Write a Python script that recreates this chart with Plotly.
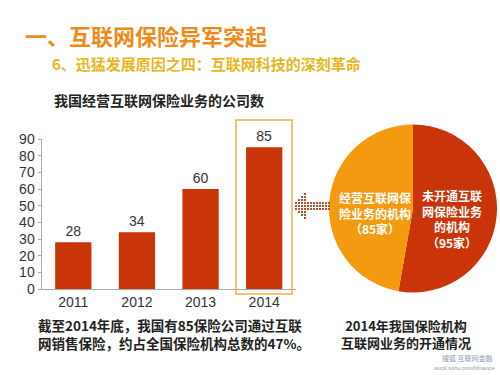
import plotly.graph_objects as go

years = ["2011", "2012", "2013", "2014"]
companies = [28, 34, 60, 85]
y_ticks = [0, 10, 20, 30, 40, 50, 60, 70, 80, 90]

pie_labels = ["未开通互联网保险业务的机构", "经营互联网保险业务的机构"]
pie_values = [95, 85]
pie_lines_open = ["经营互联网保", "险业务的机构", "（85家）"]
pie_lines_closed = ["未开通互联", "网保险业务", "的机构", "（95家）"]
caption_left = ["截至2014年底，我国有85保险公司通过互联", "网销售保险，约占全国保险机构总数的47%。"]
caption_right = ["2014年我国保险机构", "互联网业务的开通情况"]

CJK = "Noto Sans CJK SC"
SANS = "Liberation Sans, Arial, sans-serif"
RED = "#C93508"
ORANGE = "#F39A10"

fig = go.Figure()

fig.add_trace(go.Bar(
    x=years, y=companies, marker=dict(color=RED, line=dict(width=0)),
    text=[str(v) for v in companies], textposition="outside",
    textfont=dict(family=SANS, size=14, color="#333"),
    cliponaxis=False, showlegend=False, hoverinfo="skip",
))

fig.add_trace(go.Pie(
    labels=pie_labels, values=pie_values, sort=False, direction="clockwise",
    rotation=0, marker=dict(colors=[RED, ORANGE], line=dict(width=0)),
    textinfo="none", showlegend=False, hoverinfo="skip",
    domain=dict(x=[0.658, 0.994], y=[0.214, 0.674]),
))

fig.update_layout(
    width=500, height=375, margin=dict(l=0, r=0, t=0, b=0),
    paper_bgcolor="white", plot_bgcolor="rgba(0,0,0,0)",
    bargap=0.43,
    xaxis=dict(domain=[0.083, 0.592], showgrid=False, showline=True, linecolor="#AAA",
               linewidth=1, ticks="", tickfont=dict(family=SANS, size=14, color="#333"),
               fixedrange=True, automargin=False),
    yaxis=dict(domain=[0.2293, 0.6293], range=[0, 90], tickvals=y_ticks, showgrid=False,
               showline=True, linecolor="#AAA", linewidth=1, ticks="outside", ticklen=3,
               tickcolor="#AAA", tickfont=dict(family=SANS, size=14, color="#333"),
               zeroline=False, fixedrange=True, automargin=False),
)

# highlight box around 2014 bar
fig.add_shape(type="rect", xref="paper", yref="paper",
              x0=236/500, x1=292/500, y0=1-294/375, y1=1-120/375,
              line=dict(color="#E8B44A", width=1.5), fillcolor="rgba(0,0,0,0)")

# dotted arrow pointing left (decoration)
arrow_pts = []
for ci in range(12):
    xpx = 296 + ci * 3
    half = ci + 1 if ci < 4 else 1
    for r in range(-half, half + 1):
        arrow_pts.append((xpx, 206 + r * 3))
for (xp, yp) in arrow_pts:
    fig.add_shape(type="rect", xref="paper", yref="paper",
                  x0=(xp - 1) / 500, x1=(xp + 1) / 500, y0=1 - (yp + 1) / 375, y1=1 - (yp - 1) / 375,
                  line=dict(width=0), fillcolor="#B5532E")

def txt(x, y, s, size, color, bold=False, family=CJK, xanchor="left", align="left", pad=1):
    fig.add_annotation(xref="paper", yref="paper", x=x / 500, y=1 - y / 375, text=("<b>%s</b>" % s) if bold else s,
                       showarrow=False, xanchor=xanchor, yanchor="middle", align=align, borderpad=pad,
                       font=dict(family=family, size=size, color=color))

txt(23, 35, "一、互联网保险异军突起", 22, "#EE8A18", bold=True)
txt(50, 63, "6、迅猛发展原因之四：互联网科技的深刻革命", 15, "#E7B61C", bold=True)
txt(159, 100, "我国经营互联网保险业务的公司数", 14, "#222", bold=True, xanchor="center")
txt(36, 334, "<br>".join(caption_left), 13.5, "#222", bold=True)
txt(406, 334, "<br>".join(caption_right), 13, "#222", bold=True, xanchor="center", align="center")

txt(375, 213, "<br>".join(pie_lines_open), 12, "white", bold=True, xanchor="center", align="center", pad=0)
txt(452, 219, "<br>".join(pie_lines_closed), 12, "white", bold=True, xanchor="center", align="center", pad=0)

# watermark
txt(495, 358, "搜狐 互联网金融", 7, "#8A9BB0", xanchor="right")
txt(497, 368, "stock.sohu.com/hfinance", 5.5, "#999", family=SANS, xanchor="right")

fig.write_html("out.html", config={"displayModeBar": False},
               post_script="document.body.style.margin='0';document.body.style.overflow='hidden';")
